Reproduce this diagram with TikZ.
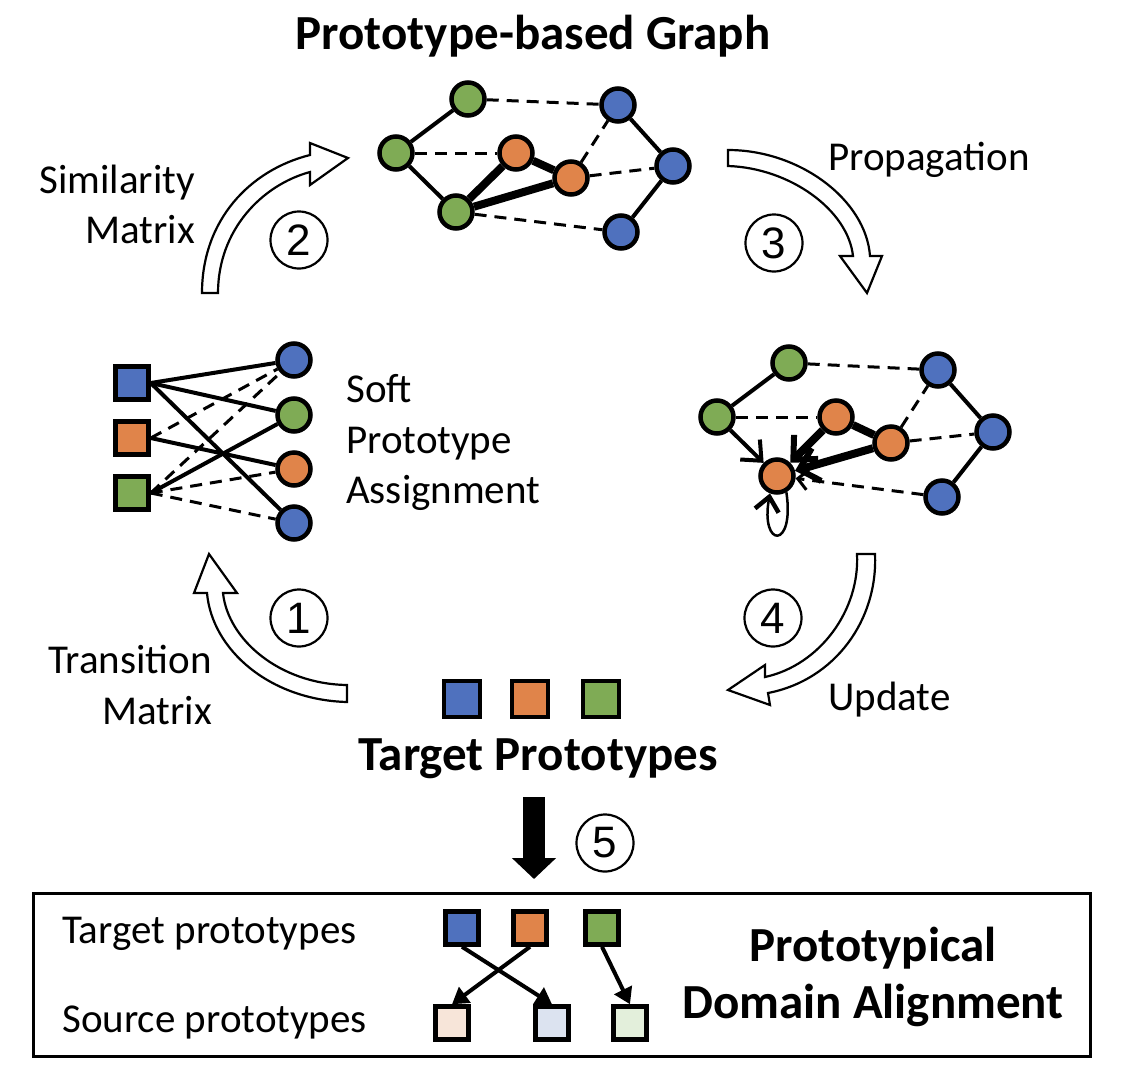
\documentclass[tikz,border=0pt]{standalone}
\usepackage{fontspec}
\setmainfont{Carlito}
\newfontfamily\numfont{Liberation Sans}
\usetikzlibrary{arrows.meta}

\definecolor{pblue}{HTML}{4F71BE}
\definecolor{porange}{HTML}{E0844A}
\definecolor{pgreen}{HTML}{7FAB55}
\definecolor{lorange}{HTML}{F7E5D9}
\definecolor{lblue}{HTML}{DCE3F0}
\definecolor{lgreen}{HTML}{E3EFDB}

\tikzset{
  vtx/.style={circle,draw,line width=4.5pt,minimum size=33pt,inner sep=0pt},
  proto/.style={rectangle,draw,line width=4.5pt,minimum size=33pt,inner sep=0pt},
  lbl/.style={font=\fontsize{41}{50}\selectfont,inner sep=0pt},
  hdr/.style={font=\fontsize{49}{58}\selectfont\bfseries,inner sep=0pt},
  stepnum/.style={circle,draw,line width=2.2pt,minimum size=57pt,inner sep=0pt,
    font=\numfont\fontsize{44}{44}\selectfont},
  link/.style={line width=4pt},
  heavy/.style={line width=8pt},
  dashlink/.style={line width=3pt,dash pattern=on 12pt off 8pt},
  hollow/.style={draw,fill=white,line width=2.2pt,line join=miter},
}

\begin{document}
\begin{tikzpicture}[x=1pt,y=-1pt]
  \useasboundingbox (0,0) rectangle (1128,1072);

  % prototype-based graph
  \node[hdr,anchor=base] (graphtitle) at (533,49) {Prototype-based Graph};
  \node[vtx,fill=pgreen] (g1) at (468,99) {};
  \node[vtx,fill=pgreen] (g2) at (396,153) {};
  \node[vtx,fill=pgreen] (g3) at (456,212) {};
  \node[vtx,fill=porange] (o1) at (516,153) {};
  \node[vtx,fill=porange] (o2) at (571,178) {};
  \node[vtx,fill=pblue] (b1) at (618,105) {};
  \node[vtx,fill=pblue] (b2) at (673,166) {};
  \node[vtx,fill=pblue] (b3) at (621,232) {};
  \draw[link] (g1) -- (g2) -- (g3);
  \draw[link] (b1) -- (b2) -- (b3);
  \draw[heavy] (g3) -- (o1) -- (o2) -- (g3);
  \draw[dashlink] (g1) -- (b1);
  \draw[dashlink] (g2) -- (o1);
  \draw[dashlink] (o2) -- (b1);
  \draw[dashlink] (o2) -- (b2);
  \draw[dashlink] (g3) -- (b3);

  % soft assignment
  \node[proto,fill=pblue] (sb) at (132,383) {};
  \node[proto,fill=porange] (so) at (132,438) {};
  \node[proto,fill=pgreen] (sg) at (132,493) {};
  \node[vtx,fill=pblue] (c1) at (294,360) {};
  \node[vtx,fill=pgreen] (c2) at (294,415) {};
  \node[vtx,fill=porange] (c3) at (294,469) {};
  \node[vtx,fill=pblue] (c4) at (294,523) {};
  \draw[link] (sb.east) -- (c1);
  \draw[link] (sb.east) -- (c2);
  \draw[link] (sb.east) -- (c4);
  \draw[link] (so.east) -- (c3);
  \draw[link] (sg.east) -- (c2);
  \draw[dashlink] (so.east) -- (c1);
  \draw[dashlink] (sg.east) -- (c1);
  \draw[dashlink] (sg.east) -- (c3);
  \draw[dashlink] (sg.east) -- (c4);
  \node[lbl,anchor=base west] (soft1) at (346,402) {Soft};
  \node[lbl,anchor=base west] (soft2) at (346,453) {Prototype};
  \node[lbl,anchor=base west] (soft3) at (346,503) {Assignment};

  % propagated graph
  \node[vtx,fill=pgreen] (rg1) at (789,363) {};
  \node[vtx,fill=pgreen] (rg2) at (717,417) {};
  \node[vtx,fill=porange] (ro1) at (836,417) {};
  \node[vtx,fill=porange] (ro2) at (891,443) {};
  \node[vtx,fill=porange] (tgt) at (777,476) {};
  \node[vtx,fill=pblue] (rb1) at (938,370) {};
  \node[vtx,fill=pblue] (rb2) at (993,432) {};
  \node[vtx,fill=pblue] (rb3) at (942,497) {};
  \draw[link] (rg1) -- (rg2);
  \draw[link] (rb1) -- (rb2) -- (rb3);
  \draw[heavy] (ro1) -- (ro2);
  \draw[dashlink] (rg1) -- (rb1);
  \draw[dashlink] (rg2) -- (ro1);
  \draw[dashlink] (ro2) -- (rb1);
  \draw[dashlink] (ro2) -- (rb2);
  \draw[link,-{Straight Barb[length=16pt,width=28pt]}] (rg2) -- (tgt);
  \draw[heavy,-{Straight Barb[length=18pt,width=34pt,line width=6pt]}] (ro1) -- (tgt);
  \draw[heavy,-{Straight Barb[length=18pt,width=34pt,line width=6pt]}] (ro2) -- (tgt);
  \draw[dashlink,-{Straight Barb[length=10pt,width=20pt]}] (rb3) -- (tgt);
  \draw[line width=2.5pt,-{Straight Barb[length=14pt,width=24pt,line width=4.5pt]}]
    (tgt.-60) .. controls (795,550) and (760,548) .. (tgt.-112);

  % target prototypes
  \node[proto,minimum size=36pt,fill=pblue] (tb) at (462,699) {};
  \node[proto,minimum size=36pt,fill=porange] (to) at (530,699) {};
  \node[proto,minimum size=36pt,fill=pgreen] (tg) at (601,699) {};
  \node[hdr,anchor=base] (tgttitle) at (538,770) {Target Prototypes};

  % cycle arrows
  \draw[hollow] (202,293) .. controls (202,220) and (250,170) .. (310,155)
    -- (310,143) -- (348,158) -- (310,185) -- (310,172)
    .. controls (262,185) and (218,230) .. (218,293) -- cycle;
  \draw[hollow] (728,150) .. controls (800,150) and (866,200) .. (870,256)
    -- (882,256) -- (867,293) -- (840,256) -- (853,256)
    .. controls (848,210) and (790,168) .. (728,166) -- cycle;
  \draw[hollow] (347,702) .. controls (270,700) and (212,650) .. (207,593)
    -- (194,593) -- (209,554) -- (237,593) -- (223,593)
    .. controls (228,640) and (280,684) .. (347,685) -- cycle;
  \draw[hollow] (857,554) .. controls (860,610) and (820,665) .. (765,677)
    -- (765,665) -- (728,690) -- (770,705) -- (768,693)
    .. controls (835,680) and (878,620) .. (875,554) -- cycle;
  \node[stepnum] (n1) at (299,618) {1};
  \node[stepnum] (n2) at (299,240) {2};
  \node[stepnum] (n3) at (774,243) {3};
  \node[stepnum] (n4) at (773,618) {4};
  \node[lbl,anchor=base east] (simtxt) at (195,193) {Similarity};
  \node[lbl,anchor=base east] (simmat) at (195,243) {Matrix};
  \node[lbl,anchor=base west] (proptxt) at (828,170) {Propagation};
  \node[lbl,anchor=base east] (transtxt) at (212,673) {Transition};
  \node[lbl,anchor=base east] (transmat) at (212,724) {Matrix};
  \node[lbl,anchor=base west] (updtxt) at (828,710) {Update};

  % alignment
  \coordinate (arrtop) at (534,797);
  \coordinate (arrtip) at (534,879);
  \draw[line width=22pt,-{Triangle[length=21pt,width=43pt]}] (arrtop) -- (arrtip);
  \node[stepnum] (n5) at (605,843) {5};
  \node[draw,line width=3pt,minimum width=1057pt,minimum height=163pt,inner sep=0pt]
    (alignbox) at (561.5,974.5) {};
  \node[lbl,anchor=base west] (tgtrow) at (62,943) {Target prototypes};
  \node[lbl,anchor=base west] (srcrow) at (62,1032) {Source prototypes};
  \node[proto,fill=pblue] (ab) at (462,928) {};
  \node[proto,fill=porange] (ao) at (530,928) {};
  \node[proto,fill=pgreen] (ag) at (602,928) {};
  \node[proto,fill=lorange] (lo) at (452,1023) {};
  \node[proto,fill=lblue] (lb) at (552,1023) {};
  \node[proto,fill=lgreen] (lg) at (630,1023) {};
  \draw[line width=4pt,-{Triangle[length=16pt,width=19pt]}] (ab.south) -- (lb.north);
  \draw[line width=4pt,-{Triangle[length=16pt,width=19pt]}] (ao.south) -- (lo.north);
  \draw[line width=4pt,-{Triangle[length=16pt,width=19pt]}] (ag.south) -- (lg.north);
  \node[hdr,anchor=base] (aligntxt1) at (873,961) {Prototypical};
  \node[hdr,anchor=base] (aligntxt2) at (873,1018) {Domain Alignment};
\end{tikzpicture}
\end{document}
